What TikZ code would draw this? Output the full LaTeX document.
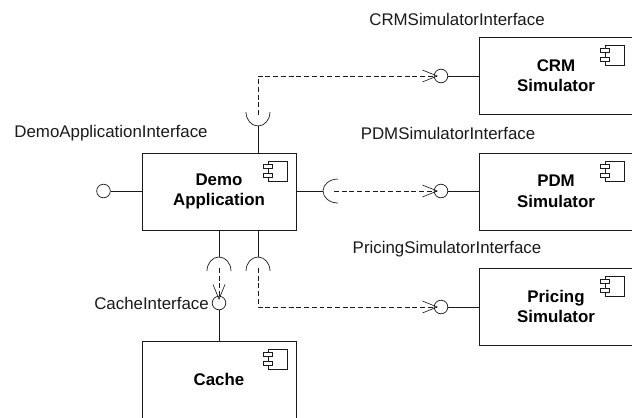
\documentclass[tikz,border=0pt]{standalone}
\usepackage{fontspec}
\setmainfont{Liberation Sans}
\usetikzlibrary{calc,arrows.meta}
\definecolor{ink}{HTML}{1A1A1A}
\tikzset{
  comp/.style={draw=ink, line width=0.6pt, fill=white, minimum width=3.85cm, minimum height=1.925cm, inner sep=0pt,
    align=center, font=\fontsize{12}{14.6}\selectfont\bfseries},
  iface/.style={circle, draw=ink, line width=0.5pt, fill=white, minimum size=0.34cm, inner sep=0pt},
  base/.style={draw=ink, line width=0.6pt},
  sock/.style={draw=ink, line width=0.5pt},
  dep/.style={draw=ink, line width=0.5pt, dash pattern=on 3.5pt off 2pt, shorten >=-3pt,
    -{Straight Barb[length=10.5pt,width=8.5pt,line width=0.45pt]}},
  lab/.style={text=ink, font=\fontsize{12}{14}\selectfont, inner sep=0pt},
  ico/.style={draw=ink, line width=0.45pt, fill=white},
}

\begin{document}
\begin{tikzpicture}[x=0.025cm,y=-0.025cm]
  \clip (0,0) rectangle (632,417);
  % components
  \node[comp] (demo) at (219,191.5) {Demo\\Application};
  \node[comp] (crm) at (556,75.5) {CRM\\Simulator};
  \node[comp] (pdm) at (556,191.5) {PDM\\Simulator};
  \node[comp] (pricing) at (556,306.5) {Pricing\\Simulator};
  \node[comp] (cache) at (219,379.5) {Cache};
  \foreach \c in {demo,crm,pdm,pricing,cache}{
    \draw[ico] ($(\c.north east)+(-28,9)$) rectangle ($(\c.north east)+(-9,29)$);
    \draw[ico] ($(\c.north east)+(-33,12)$) rectangle ($(\c.north east)+(-24,16)$);
    \draw[ico] ($(\c.north east)+(-33,21)$) rectangle ($(\c.north east)+(-24,25)$);
  }
  % provided interfaces
  \node[iface] (demoif) at (103.5,191) {};
  \node[iface] (crmif) at (441,76) {};
  \node[iface] (pdmif) at (441,191) {};
  \node[iface] (pricingif) at (441,307) {};
  \node[iface] (cacheif) at (219,303) {};
  \draw[base] (demoif) -- (demoif -| demo.west);
  \draw[base] (crmif) -- (crmif -| crm.west);
  \draw[base] (pdmif) -- (pdmif -| pdm.west);
  \draw[base] (pricingif) -- (pricingif -| pricing.west);
  \draw[base] (cacheif) -- (cacheif |- cache.north);
  % required interfaces
  \coordinate (socktop) at (258,126);
  \coordinate (sockright) at (323,191);
  \coordinate (sockcache) at (219,257);
  \coordinate (sockprice) at (258,257);
  \draw[base] (socktop) -- (socktop |- demo.north);
  \draw[base] (sockright) -- (sockright -| demo.east);
  \draw[base] (sockcache) -- (sockcache |- demo.south);
  \draw[base] (sockprice) -- (sockprice |- demo.south);
  \draw[sock] ($(socktop)+(-12,-14)$) arc[start angle=180,end angle=0,x radius=12,y radius=14];
  \draw[sock] ($(sockright)+(15,-12)$) arc[start angle=270,end angle=90,x radius=15,y radius=12];
  \draw[sock] ($(sockcache)+(-12,14)$) arc[start angle=180,end angle=360,x radius=12,y radius=14];
  \draw[sock] ($(sockprice)+(-12,14)$) arc[start angle=180,end angle=360,x radius=12,y radius=14];
  % dependencies
  \coordinate (depcrm) at (258,115);
  \coordinate (deppdm) at (334,191);
  \coordinate (depcache) at (219,268);
  \coordinate (depprice) at (258,268);
  \draw[dep] (depcrm) |- (crmif);
  \draw[dep] (deppdm) -- (pdmif);
  \draw[dep] (depcache) -- (cacheif);
  \draw[dep] (depprice) |- (pricingif);
  % labels
  \node[lab] (crmlab) at (457,19.5) {CRMSimulatorInterface};
  \node[lab] (pdmlab) at (448,133.5) {PDMSimulatorInterface};
  \node[lab] (demolab) at (111,133.5) {DemoApplicationInterface};
  \node[lab] (pricinglab) at (447,249.5) {PricingSimulatorInterface};
  \node[lab,anchor=east] (cachelab) at (209,303.5) {CacheInterface};
\end{tikzpicture}
\end{document}
